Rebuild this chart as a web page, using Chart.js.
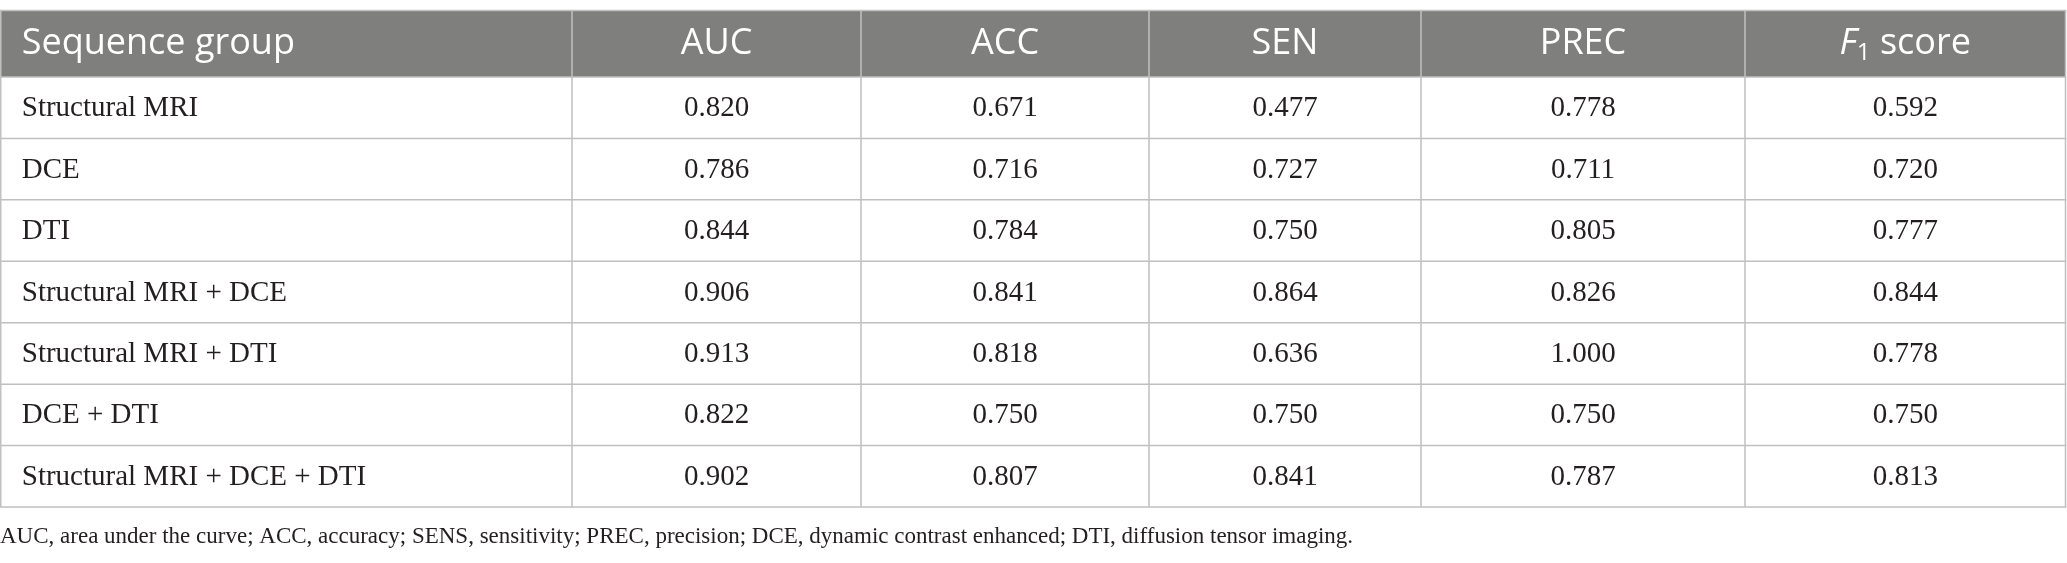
<!DOCTYPE html>
<html>
<head>
<meta charset="utf-8">
<script src="https://cdn.jsdelivr.net/npm/chart.js@4/dist/chart.umd.min.js"></script>
<style>
  html, body { margin: 0; padding: 0; background: #fff; }
  #wrap { width: 2067px; height: 563px; position: relative; }
</style>
</head>
<body>
<div id="wrap"><canvas id="table-chart"></canvas></div>
<script>
// table data
const columns = ['Sequence group', 'AUC', 'ACC', 'SEN', 'PREC', 'F1 score'];
const groups = ['Structural MRI', 'DCE', 'DTI', 'Structural MRI + DCE', 'Structural MRI + DTI', 'DCE + DTI', 'Structural MRI + DCE + DTI'];
const auc = [0.820, 0.786, 0.844, 0.906, 0.913, 0.822, 0.902];
const acc = [0.671, 0.716, 0.784, 0.841, 0.818, 0.750, 0.807];
const sen = [0.477, 0.727, 0.750, 0.864, 0.636, 0.750, 0.841];
const prec = [0.778, 0.711, 0.805, 0.826, 1.000, 0.750, 0.787];
const f1 = [0.592, 0.720, 0.777, 0.844, 0.778, 0.750, 0.813];
const footnote = 'AUC, area under the curve; ACC, accuracy; SENS, sensitivity; PREC, precision; DCE, dynamic contrast enhanced; DTI, diffusion tensor imaging.';

const metrics = [auc, acc, sen, prec, f1];

// layout (in scale units)
const colEdges = [0.75, 572, 861, 1149, 1421, 1745, 2065.5];
const headerTop = 10.5;
const headerBottom = 77;
const rowHeight = 61.43;
const footY = 537;

const headerFont = '36px "Open Sans"';
const bodyFont = '29px "Liberation Serif"';
const footFont = '23px "Liberation Serif"';
const lineColor = '#c0c0c0';
const headerBg = '#7f807e';

const tablePlugin = {
  id: 'tableDraw',
  afterDraw(chart) {
    const { ctx } = chart;
    const x = chart.scales.x, y = chart.scales.y;
    const px = v => x.getPixelForValue(v);
    const py = v => y.getPixelForValue(v);
    const rowTop = i => headerBottom + i * rowHeight;
    const bottom = rowTop(groups.length);

    ctx.save();
    // header background
    ctx.fillStyle = headerBg;
    ctx.fillRect(px(colEdges[0]), py(headerTop), px(colEdges[6]) - px(colEdges[0]), py(headerBottom) - py(headerTop));

    // grid lines
    ctx.strokeStyle = lineColor;
    ctx.lineWidth = 1.5;
    ctx.beginPath();
    [headerTop, headerBottom].concat(groups.map((g, i) => rowTop(i + 1))).forEach(v => {
      ctx.moveTo(px(colEdges[0]) - 1, py(v));
      ctx.lineTo(px(colEdges[6]) + 1, py(v));
    });
    colEdges.forEach(c => {
      ctx.moveTo(px(c), py(headerTop));
      ctx.lineTo(px(c), py(bottom));
    });
    ctx.stroke();

    // header text
    ctx.fillStyle = '#ffffff';
    ctx.textBaseline = 'middle';
    const hy = py((headerTop + headerBottom) / 2);
    columns.forEach((label, c) => {
      ctx.font = headerFont;
      if (c === 0) {
        ctx.textAlign = 'left';
        ctx.fillText(label, px(colEdges[0]) + 21, hy);
        return;
      }
      const cx = (px(colEdges[c]) + px(colEdges[c + 1])) / 2;
      if (label === 'F1 score') {
        ctx.font = 'italic ' + headerFont;
        const wF = ctx.measureText('F').width;
        ctx.font = '24px "Open Sans"';
        const w1 = ctx.measureText('1').width;
        ctx.font = headerFont;
        const wS = ctx.measureText(' score').width;
        let sx = cx - (wF + w1 + wS) / 2;
        ctx.textAlign = 'left';
        ctx.font = 'italic ' + headerFont;
        ctx.fillText('F', sx, hy);
        ctx.font = '24px "Open Sans"';
        ctx.fillText('1', sx + wF, hy + 9);
        ctx.font = headerFont;
        ctx.fillText(' score', sx + wF + w1, hy);
      } else {
        ctx.textAlign = 'center';
        ctx.fillText(label, cx, hy);
      }
    });

    // body text
    ctx.fillStyle = '#231f20';
    ctx.font = bodyFont;
    groups.forEach((g, i) => {
      const cy = py(rowTop(i) + rowHeight / 2) + 1;
      ctx.textAlign = 'left';
      ctx.fillText(g, px(colEdges[0]) + 21, cy);
      ctx.textAlign = 'center';
      metrics.forEach((arr, m) => {
        const cx = (px(colEdges[m + 1]) + px(colEdges[m + 2])) / 2;
        ctx.fillText(arr[i].toFixed(3), cx, cy);
      });
    });

    // footnote
    ctx.font = footFont;
    ctx.textAlign = 'left';
    ctx.fillText(footnote, px(0), py(footY));
    ctx.restore();
  }
};

new Chart(document.getElementById('table-chart'), {
  type: 'scatter',
  data: { datasets: [{ data: [], pointRadius: 0 }] },
  options: {
    responsive: true,
    maintainAspectRatio: false,
    animation: false,
    events: [],
    layout: { padding: 0 },
    plugins: { legend: { display: false }, tooltip: { enabled: false } },
    scales: {
      x: { type: 'linear', display: false, min: 0, max: 2067 },
      y: { type: 'linear', display: false, min: 0, max: 563, reverse: true }
    }
  },
  plugins: [tablePlugin]
});
</script>
</body>
</html>
